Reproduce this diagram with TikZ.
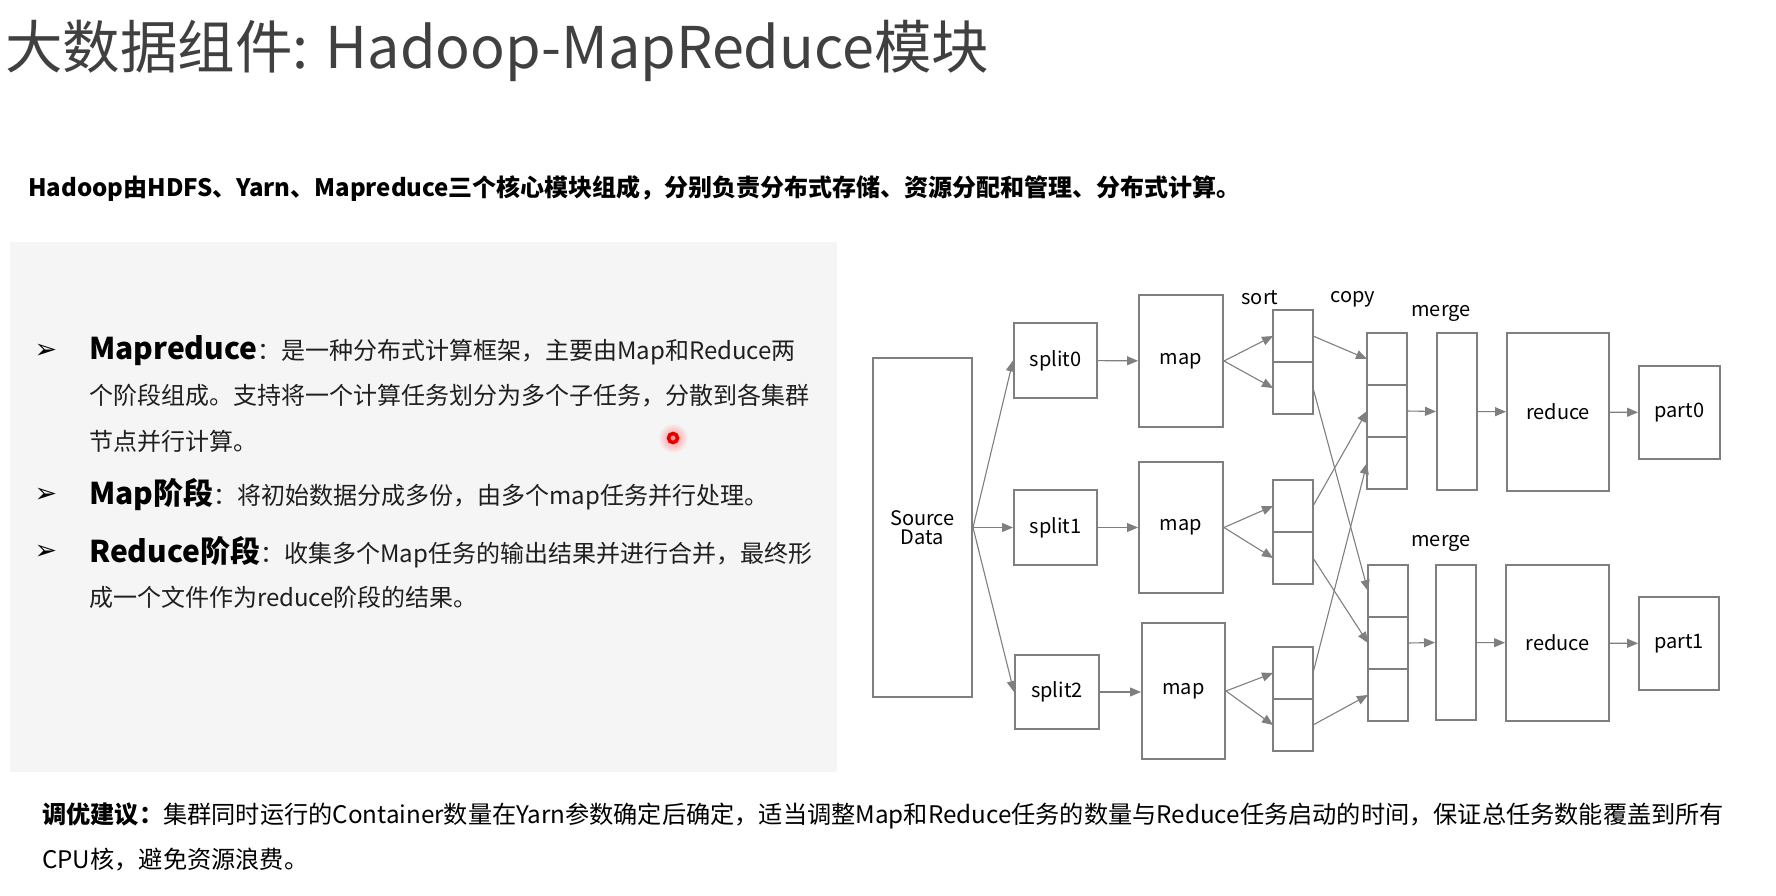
\documentclass[tikz,border=0pt]{standalone}
\usepackage{fontspec}
\setmainfont{Noto Sans CJK SC}
\newfontfamily\symfont{DejaVu Sans}
\usepackage{xcolor}
\usetikzlibrary{positioning, arrows.meta}

\definecolor{boxgray}{HTML}{7F7F7F}
\definecolor{titlegray}{HTML}{404040}
\definecolor{panelgray}{HTML}{F5F5F5}
\definecolor{bodyblack}{HTML}{1F1F1F}

\begin{document}
\begin{tikzpicture}[
        x=1pt, y=-1pt,
        box/.style={draw=boxgray, line width=2pt, rectangle, inner sep=0pt, align=center, font=\fontsize{20}{23}\selectfont},
        cell/.style={draw=boxgray, line width=2pt, rectangle, minimum width=40pt, minimum height=52pt, inner sep=0pt, outer sep=0pt},
        arrow/.style={-{Triangle[length=11pt, width=9pt]}, draw=boxgray, line width=1.1pt},
        lbl/.style={inner sep=0pt, font=\fontsize{20}{23}\selectfont},
        bul/.style={inner sep=0pt, font=\symfont\fontsize{27}{28}\selectfont},
        txtline/.style={anchor=west, inner sep=0pt, text=bodyblack, font=\fontsize{24}{28}\selectfont}
        ]

        \useasboundingbox[fill=white] (0,0) rectangle (1776,896);

        % title and lead line
        \node[anchor=west, inner sep=0pt, text=titlegray, font=\fontsize{57.5}{62}\selectfont] (title) at (5,51) {大数据组件: Hadoop-MapReduce模块};
        \node[anchor=west, inner sep=0pt, font=\fontsize{24}{28}\selectfont\bfseries] (lead) at (28,189) {Hadoop由HDFS、Yarn、Mapreduce三个核心模块组成，分别负责分布式存储、资源分配和管理、分布式计算。};

        % left panel
        \fill[panelgray] (10,242) rectangle (837,772);
        \node[bul] (bul1) at (46,351) {➢};
        \node[bul] (bul2) at (46,495) {➢};
        \node[bul] (bul3) at (46,552) {➢};
        \node[txtline] (mr1) at (89,351) {{\fontsize{30}{32}\selectfont\bfseries\color{black}Mapreduce}：是一种分布式计算框架，主要由Map和Reduce两};
        \node[txtline] (mr2) at (89,396) {个阶段组成。支持将一个计算任务划分为多个子任务，分散到各集群};
        \node[txtline] (mr3) at (89,441) {节点并行计算。};
        \node[txtline] (mp1) at (89,495) {{\fontsize{30}{32}\selectfont\bfseries\color{black}Map阶段}：将初始数据分成多份，由多个map任务并行处理。};
        \node[txtline] (rd1) at (89,552) {{\fontsize{30}{32}\selectfont\bfseries\color{black}Reduce阶段}：收集多个Map任务的输出结果并进行合并，最终形};
        \node[txtline] (rd2) at (89,597) {成一个文件作为reduce阶段的结果。};

        % pointer dot
        \shade[inner color=red!45, outer color=panelgray] (673,438) circle (15);
        \draw[red!90!black, line width=3.5pt] (673,438) circle (4.5);

        % mapreduce flow
        \node[box, minimum width=99pt, minimum height=339pt] (src) at (922.5,527.5) {Source\\[-4pt]Data};
        \node[box, minimum width=83pt, minimum height=75pt] (split0) at (1055.5,360.5) {split0};
        \node[box, minimum width=83pt, minimum height=75pt] (split1) at (1055.5,527.5) {split1};
        \node[box, minimum width=84pt, minimum height=74pt] (split2) at (1057,692) {split2};
        \node[box, minimum width=84pt, minimum height=132pt] (map0) at (1181,361) {map};
        \node[box, minimum width=84pt, minimum height=131pt] (map1) at (1181,527.5) {map};
        \node[box, minimum width=83pt, minimum height=136pt] (map2) at (1183.5,691) {map};

        \node[cell] (s0a) at (1293,336) {};
        \node[cell, below=0pt of s0a] (s0b) {};
        \node[cell] (s1a) at (1293,506) {};
        \node[cell, below=0pt of s1a] (s1b) {};
        \node[cell] (s2a) at (1293,673) {};
        \node[cell, below=0pt of s2a] (s2b) {};

        \node[cell] (c0a) at (1387,359) {};
        \node[cell, below=0pt of c0a] (c0b) {};
        \node[cell, below=0pt of c0b] (c0c) {};
        \node[cell] (c1a) at (1388,591) {};
        \node[cell, below=0pt of c1a] (c1b) {};
        \node[cell, below=0pt of c1b] (c1c) {};

        \node[box, minimum width=40pt, minimum height=157pt] (merge0) at (1457,411.5) {};
        \node[box, minimum width=40pt, minimum height=155pt] (merge1) at (1456,642.5) {};
        \node[box, minimum width=102pt, minimum height=158pt] (reduce0) at (1558,412) {reduce};
        \node[box, minimum width=103pt, minimum height=156pt] (reduce1) at (1557.5,643) {reduce};
        \node[box, minimum width=81pt, minimum height=93pt] (part0) at (1679.5,412.5) {part0};
        \node[box, minimum width=80pt, minimum height=93pt] (part1) at (1679,643.5) {part1};

        \node[lbl] (sortlbl) at (1260,298) {sort};
        \node[lbl] (copylbl) at (1353,299) {copy};
        \node[lbl] (mergelbl0) at (1441,313) {merge};
        \node[lbl] (mergelbl1) at (1441,543) {merge};

        \draw[arrow] (src.east) -- (split0.west);
        \draw[arrow] (src.east) -- (split1.west);
        \draw[arrow] (src.east) -- (split2.west);
        \draw[arrow] (split0) -- (map0);
        \draw[arrow] (split1) -- (map1);
        \draw[arrow] (split2.east) -- (split2.east -| map2.west);
        \draw[arrow] (map0.east) -- (s0a.west);
        \draw[arrow] (map0.east) -- (s0b.west);
        \draw[arrow] (map1.east) -- (s1a.west);
        \draw[arrow] (map1.east) -- (s1b.west);
        \draw[arrow] (map2.east) -- (s2a.west);
        \draw[arrow] (map2.east) -- (s2b.west);

        \draw[arrow] (s0a.east) -- (c0a.west);
        \draw[arrow] (s0b.east) -- (c1a.west);
        \draw[arrow] (s1a.east) -- (c0b.west);
        \draw[arrow] (s1b.east) -- (c1b.west);
        \draw[arrow] (s2a.east) -- (c0c.west);
        \draw[arrow] (s2b.east) -- (c1c.west);

        \draw[arrow] (c0b.east) -- (merge0.west);
        \draw[arrow] (c1b.east) -- (merge1.west);
        \draw[arrow] (merge0) -- (reduce0);
        \draw[arrow] (merge1) -- (reduce1);
        \draw[arrow] (reduce0) -- (part0);
        \draw[arrow] (reduce1) -- (part1);

        % tuning note
        \node[anchor=west, inner sep=0pt, font=\fontsize{24.2}{28}\selectfont] (tip1) at (42,816) {{\bfseries 调优建议：}集群同时运行的Container数量在Yarn参数确定后确定，适当调整Map和Reduce任务的数量与Reduce任务启动的时间，保证总任务数能覆盖到所有};
        \node[anchor=west, inner sep=0pt, font=\fontsize{24.2}{28}\selectfont] (tip2) at (42,860) {CPU核，避免资源浪费。};
    \end{tikzpicture}
\end{document}
